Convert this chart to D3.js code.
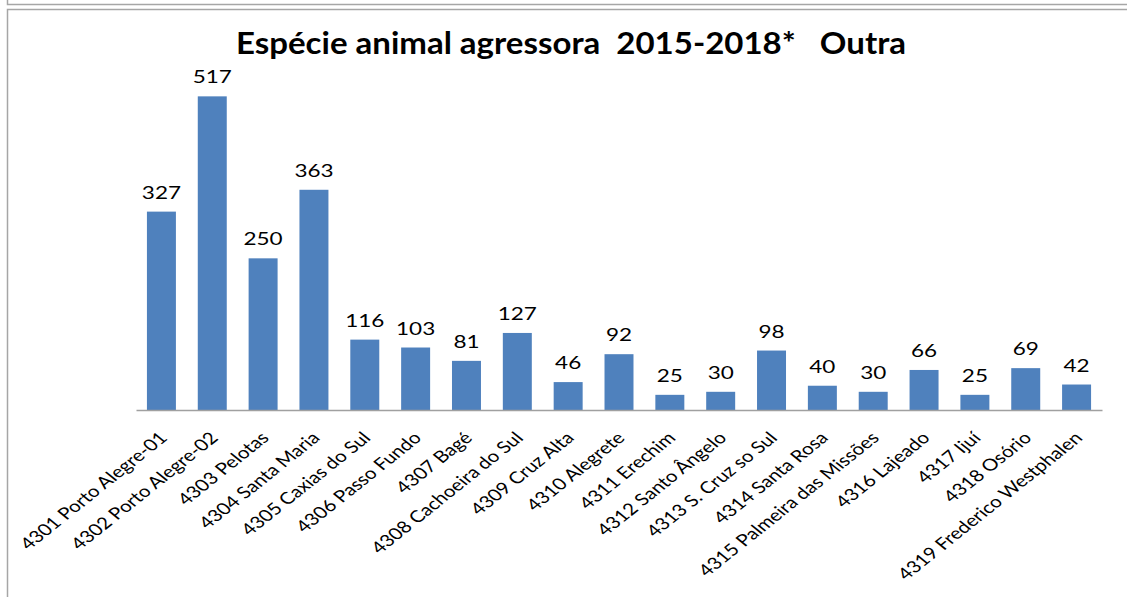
<!DOCTYPE html>
<html>
<head>
<meta charset="utf-8">
<script src="https://cdn.jsdelivr.net/npm/d3@7"></script>
<style>
  html, body { margin: 0; padding: 0; background: #fff; }
  svg { display: block; }
</style>
</head>
<body>
<svg id="chart" width="1127" height="597"></svg>
<script>
const categories = [
  "4301 Porto Alegre-01", "4302 Porto Alegre-02", "4303 Pelotas", "4304 Santa Maria",
  "4305 Caxias do Sul", "4306 Passo Fundo", "4307 Bagé", "4308 Cachoeira do Sul",
  "4309 Cruz Alta", "4310 Alegrete", "4311 Erechim", "4312 Santo Ângelo",
  "4313 S. Cruz so Sul", "4314 Santa Rosa", "4315 Palmeira das Missões", "4316 Lajeado",
  "4317 Ijuí", "4318 Osório", "4319 Frederico Westphalen"
];
const values = [327, 517, 250, 363, 116, 103, 81, 127, 46, 92, 25, 30, 98, 40, 30, 66, 25, 69, 42];
const titleText = "Espécie animal agressora  2015-2018*   Outra";
const yDomain = [0, 600];

const svg = d3.select("#chart");
const W = 1127, H = 597;
const plot = { left: 136, right: 1102, top: 46, bottom: 410 };
const stretch = 1.25;
const font = "Lato, 'Open Sans', sans-serif";

// frames
svg.append("path").attr("d", `M7.5,0 V4.5 H${W}`).attr("fill", "none").attr("stroke", "#a6a6a6").attr("stroke-width", 1.5);
svg.append("path").attr("d", `M7.5,${H} V9.5 H${W}`).attr("fill", "none").attr("stroke", "#a6a6a6").attr("stroke-width", 1.5);

const x = d3.scaleBand().domain(categories).range([plot.left, plot.right]).paddingInner(0.43).paddingOuter(0.215);
const y = d3.scaleLinear().domain(yDomain).range([plot.bottom, plot.top]);

const data = categories.map((c, i) => ({ c, v: values[i] }));

svg.append("g").selectAll("rect").data(data).join("rect")
  .attr("x", d => x(d.c))
  .attr("y", d => y(d.v))
  .attr("width", x.bandwidth())
  .attr("height", d => y(0) - y(d.v))
  .attr("fill", "#4f81bd");

// axis line
const xAxis = svg.append("g").attr("transform", `translate(0,${plot.bottom})`)
  .call(d3.axisBottom(x).tickSize(0).tickFormat(""));
xAxis.select(".domain").attr("stroke", "#a0a0a0").attr("stroke-width", 1.5);

// value labels
svg.append("g").selectAll("text").data(data).join("text")
  .attr("transform", d => `translate(${x(d.c) + x.bandwidth() / 2},${y(d.v) - 13}) scale(${stretch},1)`)
  .attr("text-anchor", "middle")
  .attr("font-family", font)
  .attr("font-size", 18)
  .attr("fill", "#000")
  .text(d => d.v);

// category labels
svg.append("g").selectAll("text").data(data).join("text")
  .attr("transform", d => `translate(${x(d.c) + x.bandwidth() / 2 + 7},${plot.bottom + 29}) scale(${stretch},1) rotate(-45)`)
  .attr("text-anchor", "end")
  .attr("font-family", font)
  .attr("font-size", 16.5)
  .attr("fill", "#000")
  .text(d => d.c);

// title
const title = svg.append("text")
  .attr("x", 571).attr("y", 54)
  .attr("text-anchor", "middle")
  .attr("font-family", font)
  .attr("font-weight", "bold")
  .attr("font-size", 30)
  .attr("fill", "#000")
  .style("white-space", "pre")
  .attr("xml:space", "preserve")
  .text(titleText);
title.attr("textLength", 670).attr("lengthAdjust", "spacingAndGlyphs");
</script>
</body>
</html>
